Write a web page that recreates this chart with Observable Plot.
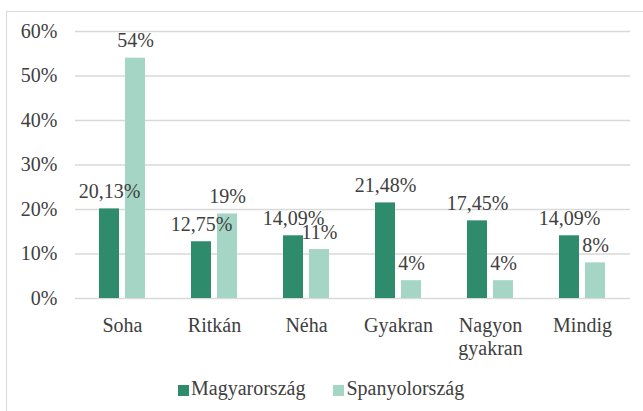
<!DOCTYPE html>
<html><head><meta charset="utf-8">
<script src="https://cdn.jsdelivr.net/npm/d3@7"></script>
<script src="https://cdn.jsdelivr.net/npm/@observablehq/plot@0.6"></script>
<style>
html,body{margin:0;padding:0;background:#fff;overflow:hidden;}
body{width:643px;height:411px;position:relative;}
.fr-top{position:absolute;left:6px;top:11px;width:637px;height:1px;background:#d9d9d9;}
.fr-left{position:absolute;left:6px;top:11px;width:1px;height:400px;background:#d9d9d9;}
.fig-a{position:absolute;left:0;top:0;}
.key-b{position:absolute;left:178px;top:376px;display:flex;align-items:center;font-size:20px;color:#404040;line-height:24px;}
.key-b .it{display:flex;align-items:center;margin-right:28px;}
.key-b .sw{width:11px;height:11px;margin-right:2px;margin-top:4px;}
</style>
</head><body>
<div class="fr-top"></div><div class="fr-left"></div>
<div class="fig-a"></div>
<div class="key-b"></div>
<script>
const categories = ["Soha","Ritkán","Néha","Gyakran","Nagyon gyakran","Mindig"];
const series = ["Magyarország","Spanyolország"];
const hungary = [20.13,12.75,14.09,21.48,17.45,14.09];
const spain = [54,19,11,4,4,8];
const yTicks = [0,10,20,30,40,50,60];
const colors = ["#2e8b6b","#a5d5c5"];

const hu = categories.map((c,i)=>({category:c, series:series[0], value:hungary[i]/100,
  label: d3.format(".2f")(hungary[i]).replace(".",",")+"%"}));
const es = categories.map((c,i)=>({category:c, series:series[1], value:spain[i]/100,
  label: spain[i]+"%"}));

const FONT = "'Liberation Serif', serif";
const setFont = el => el.style.setProperty("font-family", FONT, "important");
const txt = "#404040";
const chart = Plot.plot({
  width:643, height:365, marginLeft:75, marginRight:13, marginTop:31, marginBottom:67,
  style:{fontSize:"20px", color:txt, background:"transparent", overflow:"visible"},
  x:{domain:categories, paddingInner:0.778, paddingOuter:0.389, axis:null, label:null},
  y:{domain:[0,0.6], axis:null, label:null},
  color:{domain:series, range:colors},
  marks:[
    Plot.gridY(yTicks.map(d=>d/100), {stroke:"#d9d9d9", strokeOpacity:1, strokeWidth:1.5}),
    Plot.barY(hu,{x:"category", y:"value", fill:"series", dx:-13}),
    Plot.barY(es,{x:"category", y:"value", fill:"series", dx:13}),
    Plot.text(hu,{x:"category", y:"value", text:"label", dx:-13, dy:-11, lineAnchor:"bottom", fill:txt, fontSize:20}),
    Plot.text(es,{x:"category", y:"value", text:"label", dx:13, dy:-11, lineAnchor:"bottom", fill:txt, fontSize:20}),
    Plot.axisY(yTicks.map(d=>d/100), {tickSize:0, tickPadding:18, tickFormat:d3.format(".0%"), fontSize:20, fill:txt, label:null}),
    Plot.axisX({tickSize:0, tickPadding:17.5, tickFormat:d=>d.replace(" ","\n"), lineHeight:1.15, fontSize:20, fill:txt, label:null})
  ]
});
chart.setAttribute("font-family", FONT);
setFont(chart);
chart.querySelectorAll("g, text, tspan").forEach(el=>{ el.setAttribute("font-family", FONT); setFont(el); });
document.querySelector(".fig-a").appendChild(chart);

const legend = document.querySelector(".key-b");
setFont(legend);
series.forEach((s,i)=>{
  const item = document.createElement("div"); item.className="it";
  const sw = document.createElement("span"); sw.className="sw"; sw.style.background=colors[i];
  const t = document.createElement("span"); t.textContent=s; setFont(t);
  item.appendChild(sw); item.appendChild(t); legend.appendChild(item);
});
</script>
</body></html>
